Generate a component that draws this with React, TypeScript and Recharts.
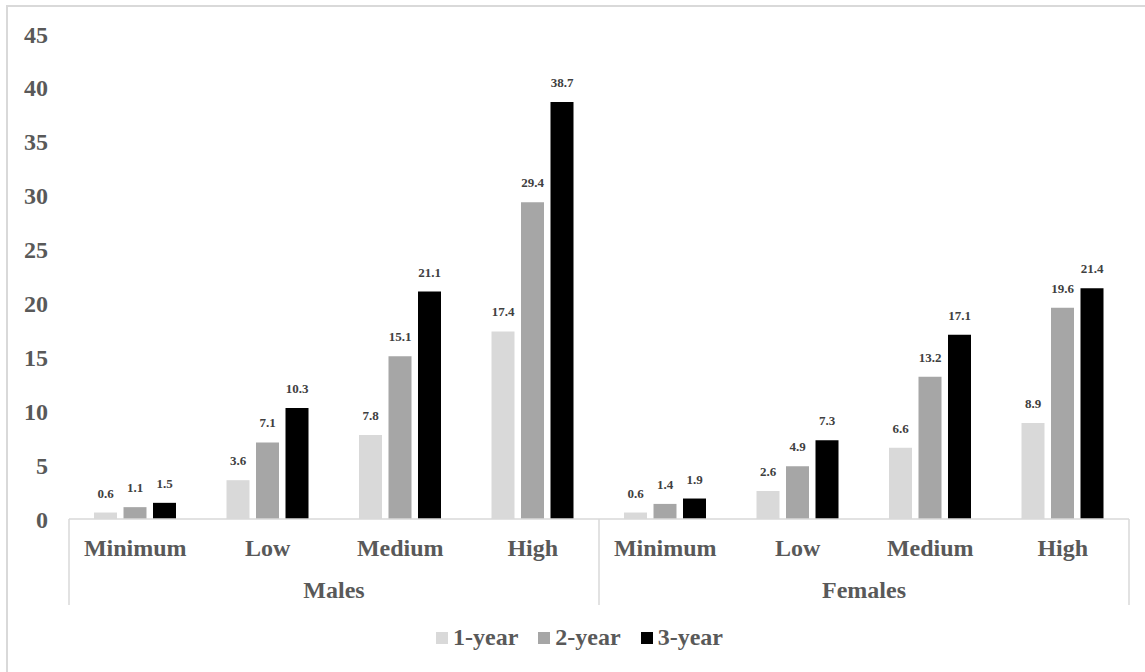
import { Bar, BarChart, LabelList, Legend, XAxis, YAxis } from "recharts";

const levels = ["Minimum", "Low", "Medium", "High"];
const groups = ["Males", "Females"];

const oneYear = [0.6, 3.6, 7.8, 17.4, 0.6, 2.6, 6.6, 8.9];
const twoYear = [1.1, 7.1, 15.1, 29.4, 1.4, 4.9, 13.2, 19.6];
const threeYear = [1.5, 10.3, 21.1, 38.7, 1.9, 7.3, 17.1, 21.4];

const yTicks = [0, 5, 10, 15, 20, 25, 30, 35, 40, 45];

const data = groups.flatMap((sex, g) =>
  levels.map((level, i) => ({
    sex,
    level,
    y1: oneYear[g * 4 + i],
    y2: twoYear[g * 4 + i],
    y3: threeYear[g * 4 + i],
  }))
);

const W = 1145;
const H = 672;
const margin = { top: 34, right: 16, bottom: 21, left: 0 };
const yAxisWidth = 69;
const levelAxisHeight = 45;
const sexAxisHeight = 46;
const halfGroup = (W - margin.left - margin.right - yAxisWidth) / 4;

const axisText = {
  fontFamily: "'Liberation Serif', 'Times New Roman', serif",
  fontWeight: 700,
  fill: "#595959",
};

function SexTick(props: any) {
  const { x, y, payload, index } = props;
  const top = y - 17 - levelAxisHeight;
  const bottom = y + 24;
  return (
    <g>
      <text x={x} y={y} dy="0.71em" textAnchor="middle" fontSize={24} {...axisText}>
        {payload.value}
      </text>
      {index === 0 && (
        <line x1={x - halfGroup} x2={x - halfGroup} y1={top} y2={bottom} stroke="#d9d9d9" strokeWidth={1.5} />
      )}
      <line x1={x + halfGroup} x2={x + halfGroup} y1={top} y2={bottom} stroke="#d9d9d9" strokeWidth={1.5} />
    </g>
  );
}

function LegendContent({ payload }: any) {
  return (
    <div style={{ display: "flex", justifyContent: "center", gap: 20, paddingTop: 14, marginLeft: 30 }}>
      {payload.map((p: any) => (
        <span key={p.value} style={{ display: "flex", alignItems: "center", gap: 5 }}>
          <span style={{ width: 12, height: 12, background: p.color, display: "inline-block" }} />
          <span style={{ ...axisText, color: "#595959", fontSize: 24 }}>{p.value}</span>
        </span>
      ))}
    </div>
  );
}

export default function App() {
  const labelStyle = {
    fontFamily: "'Liberation Serif', 'Times New Roman', serif",
    fontWeight: 700,
    fontSize: 13,
    fill: "#404040",
  };
  return (
    <div style={{ position: "absolute", left: 0, top: 0, width: W, height: H, background: "#fff", overflow: "hidden" }}>
      <div
        style={{
          position: "absolute",
          left: 6,
          top: 5,
          width: W,
          height: H,
          borderLeft: "2px solid #d9d9d9",
          borderTop: "2px solid #d9d9d9",
        }}
      />
      <BarChart
        width={W}
        height={H}
        data={data}
        margin={margin}
        barSize={23}
        barGap={6.5}
        style={{ position: "absolute", left: 0, top: 0 }}
      >
        <XAxis
          dataKey="level"
          interval={0}
          tickLine={false}
          tickSize={0}
          tickMargin={20}
          height={levelAxisHeight}
          axisLine={{ stroke: "#d9d9d9", strokeWidth: 1.5 }}
          tick={{ ...axisText, fontSize: 24 }}
        />
        <XAxis
          xAxisId="sex"
          dataKey="sex"
          allowDuplicatedCategory={false}
          interval={0}
          axisLine={false}
          tickLine={false}
          tickSize={0}
          tickMargin={17}
          height={sexAxisHeight}
          tick={<SexTick />}
        />
        <YAxis
          domain={[0, 45]}
          ticks={yTicks}
          width={yAxisWidth}
          axisLine={false}
          tickLine={false}
          tickSize={0}
          tickMargin={21}
          tick={{ ...axisText, fontSize: 24 }}
        />
        <Legend verticalAlign="bottom" content={<LegendContent />} />
        <Bar dataKey="y1" name="1-year" fill="#d9d9d9" isAnimationActive={false}>
          <LabelList dataKey="y1" position="top" offset={15} style={labelStyle} />
        </Bar>
        <Bar dataKey="y2" name="2-year" fill="#a6a6a6" isAnimationActive={false}>
          <LabelList dataKey="y2" position="top" offset={15} style={labelStyle} />
        </Bar>
        <Bar dataKey="y3" name="3-year" fill="#000000" isAnimationActive={false}>
          <LabelList dataKey="y3" position="top" offset={15} style={labelStyle} />
        </Bar>
      </BarChart>
    </div>
  );
}
